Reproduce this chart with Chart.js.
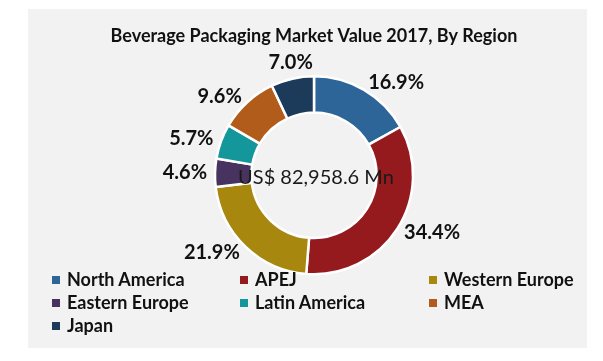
<!DOCTYPE html>
<html>
<head>
<meta charset="utf-8">
<script src="https://cdn.jsdelivr.net/npm/chart.js@4.4.0/dist/chart.umd.min.js"></script>
<style>
    body { margin: 0; background: #ffffff; width: 603px; height: 361px; overflow: hidden; }
    #panel { position: absolute; left: 28px; top: 9px; width: 559px; height: 339px; background: #f2f2f2; }
    #chart { position: absolute; left: 0; top: 0; }
    #legend { position: absolute; left: 24px; top: 260px; font-family: Lato, sans-serif; font-weight: bold; font-size: 18px; color: #111; }
    .item { position: absolute; white-space: nowrap; height: 20px; line-height: 20px; }
    .box { display: inline-block; width: 8px; height: 8px; margin-right: 7px; vertical-align: 2px; }
</style>
</head>
<body>
<div id="panel">
    <canvas id="chart" width="559" height="339"></canvas>
    <div id="legend"></div>
</div>
<script>
const regions = ['North America', 'APEJ', 'Western Europe', 'Eastern Europe', 'Latin America', 'MEA', 'Japan'];
const shares = [16.9, 34.4, 21.9, 4.6, 5.7, 9.6, 7.0];
const colors = ['#2e6598', '#941a1e', '#a8870f', '#48325f', '#14979b', '#b25c1b', '#1c3a5a'];
const totalText = 'US$ 82,958.6 Mn';

// percentages outside each slice, like the Excel labels
const outsideLabels = {
    id: 'outsideLabels',
    afterDatasetsDraw(chart) {
        const ctx = chart.ctx;
        const arcs = chart.getDatasetMeta(0).data;
        ctx.save();
        ctx.font = 'bold 20px Lato, sans-serif';
        ctx.fillStyle = '#111';
        ctx.textBaseline = 'middle';
        arcs.forEach((arc, i) => {
            const mid = (arc.startAngle + arc.endAngle) / 2;
            const r = arc.outerRadius + 8;
            const c = Math.cos(mid), s = Math.sin(mid);
            let x = arc.x + c * r;
            let y = arc.y + s * r;
            if (c > 0.3) ctx.textAlign = 'left';
            else if (c < -0.3) ctx.textAlign = 'right';
            else { ctx.textAlign = 'center'; y += s * 9; }
            ctx.fillText(shares[i].toFixed(1) + '%', x, y);
        });
        // total in the hole
        const a = arcs[0];
        ctx.font = '20px Lato, sans-serif';
        ctx.fillStyle = '#1a1a1a';
        ctx.textAlign = 'center';
        ctx.fillText(totalText, a.x + 2, a.y + 2);
        ctx.restore();
    }
};

new Chart(document.getElementById('chart'), {
    type: 'doughnut',
    data: {
        labels: regions,
        datasets: [{
            data: shares,
            backgroundColor: colors,
            borderColor: '#ffffff',
            borderWidth: 2.5,
            radius: 99,
            cutout: 75
        }]
    },
    options: {
        responsive: false,
        animation: false,
        layout: { padding: { left: 13, right: 0, top: 0, bottom: 53 } },
        plugins: {
            legend: { display: false },
            tooltip: { enabled: false },
            title: {
                display: true,
                text: 'Beverage Packaging Market Value 2017, By Region',
                color: '#111',
                font: { family: 'Lato, sans-serif', size: 18, weight: 'bold' },
                padding: { top: 16, bottom: 9 }
            }
        }
    },
    plugins: [outsideLabels]
});

// three-column legend
const legend = document.getElementById('legend');
const colX = [0, 188, 377];
regions.forEach((name, i) => {
    const el = document.createElement('div');
    el.className = 'item';
    el.style.left = colX[i % 3] + 'px';
    el.style.top = (Math.floor(i / 3) * 23) + 'px';
    el.innerHTML = '<span class="box" style="background:' + colors[i] + '"></span>' + name;
    legend.appendChild(el);
});
</script>
</body>
</html>
